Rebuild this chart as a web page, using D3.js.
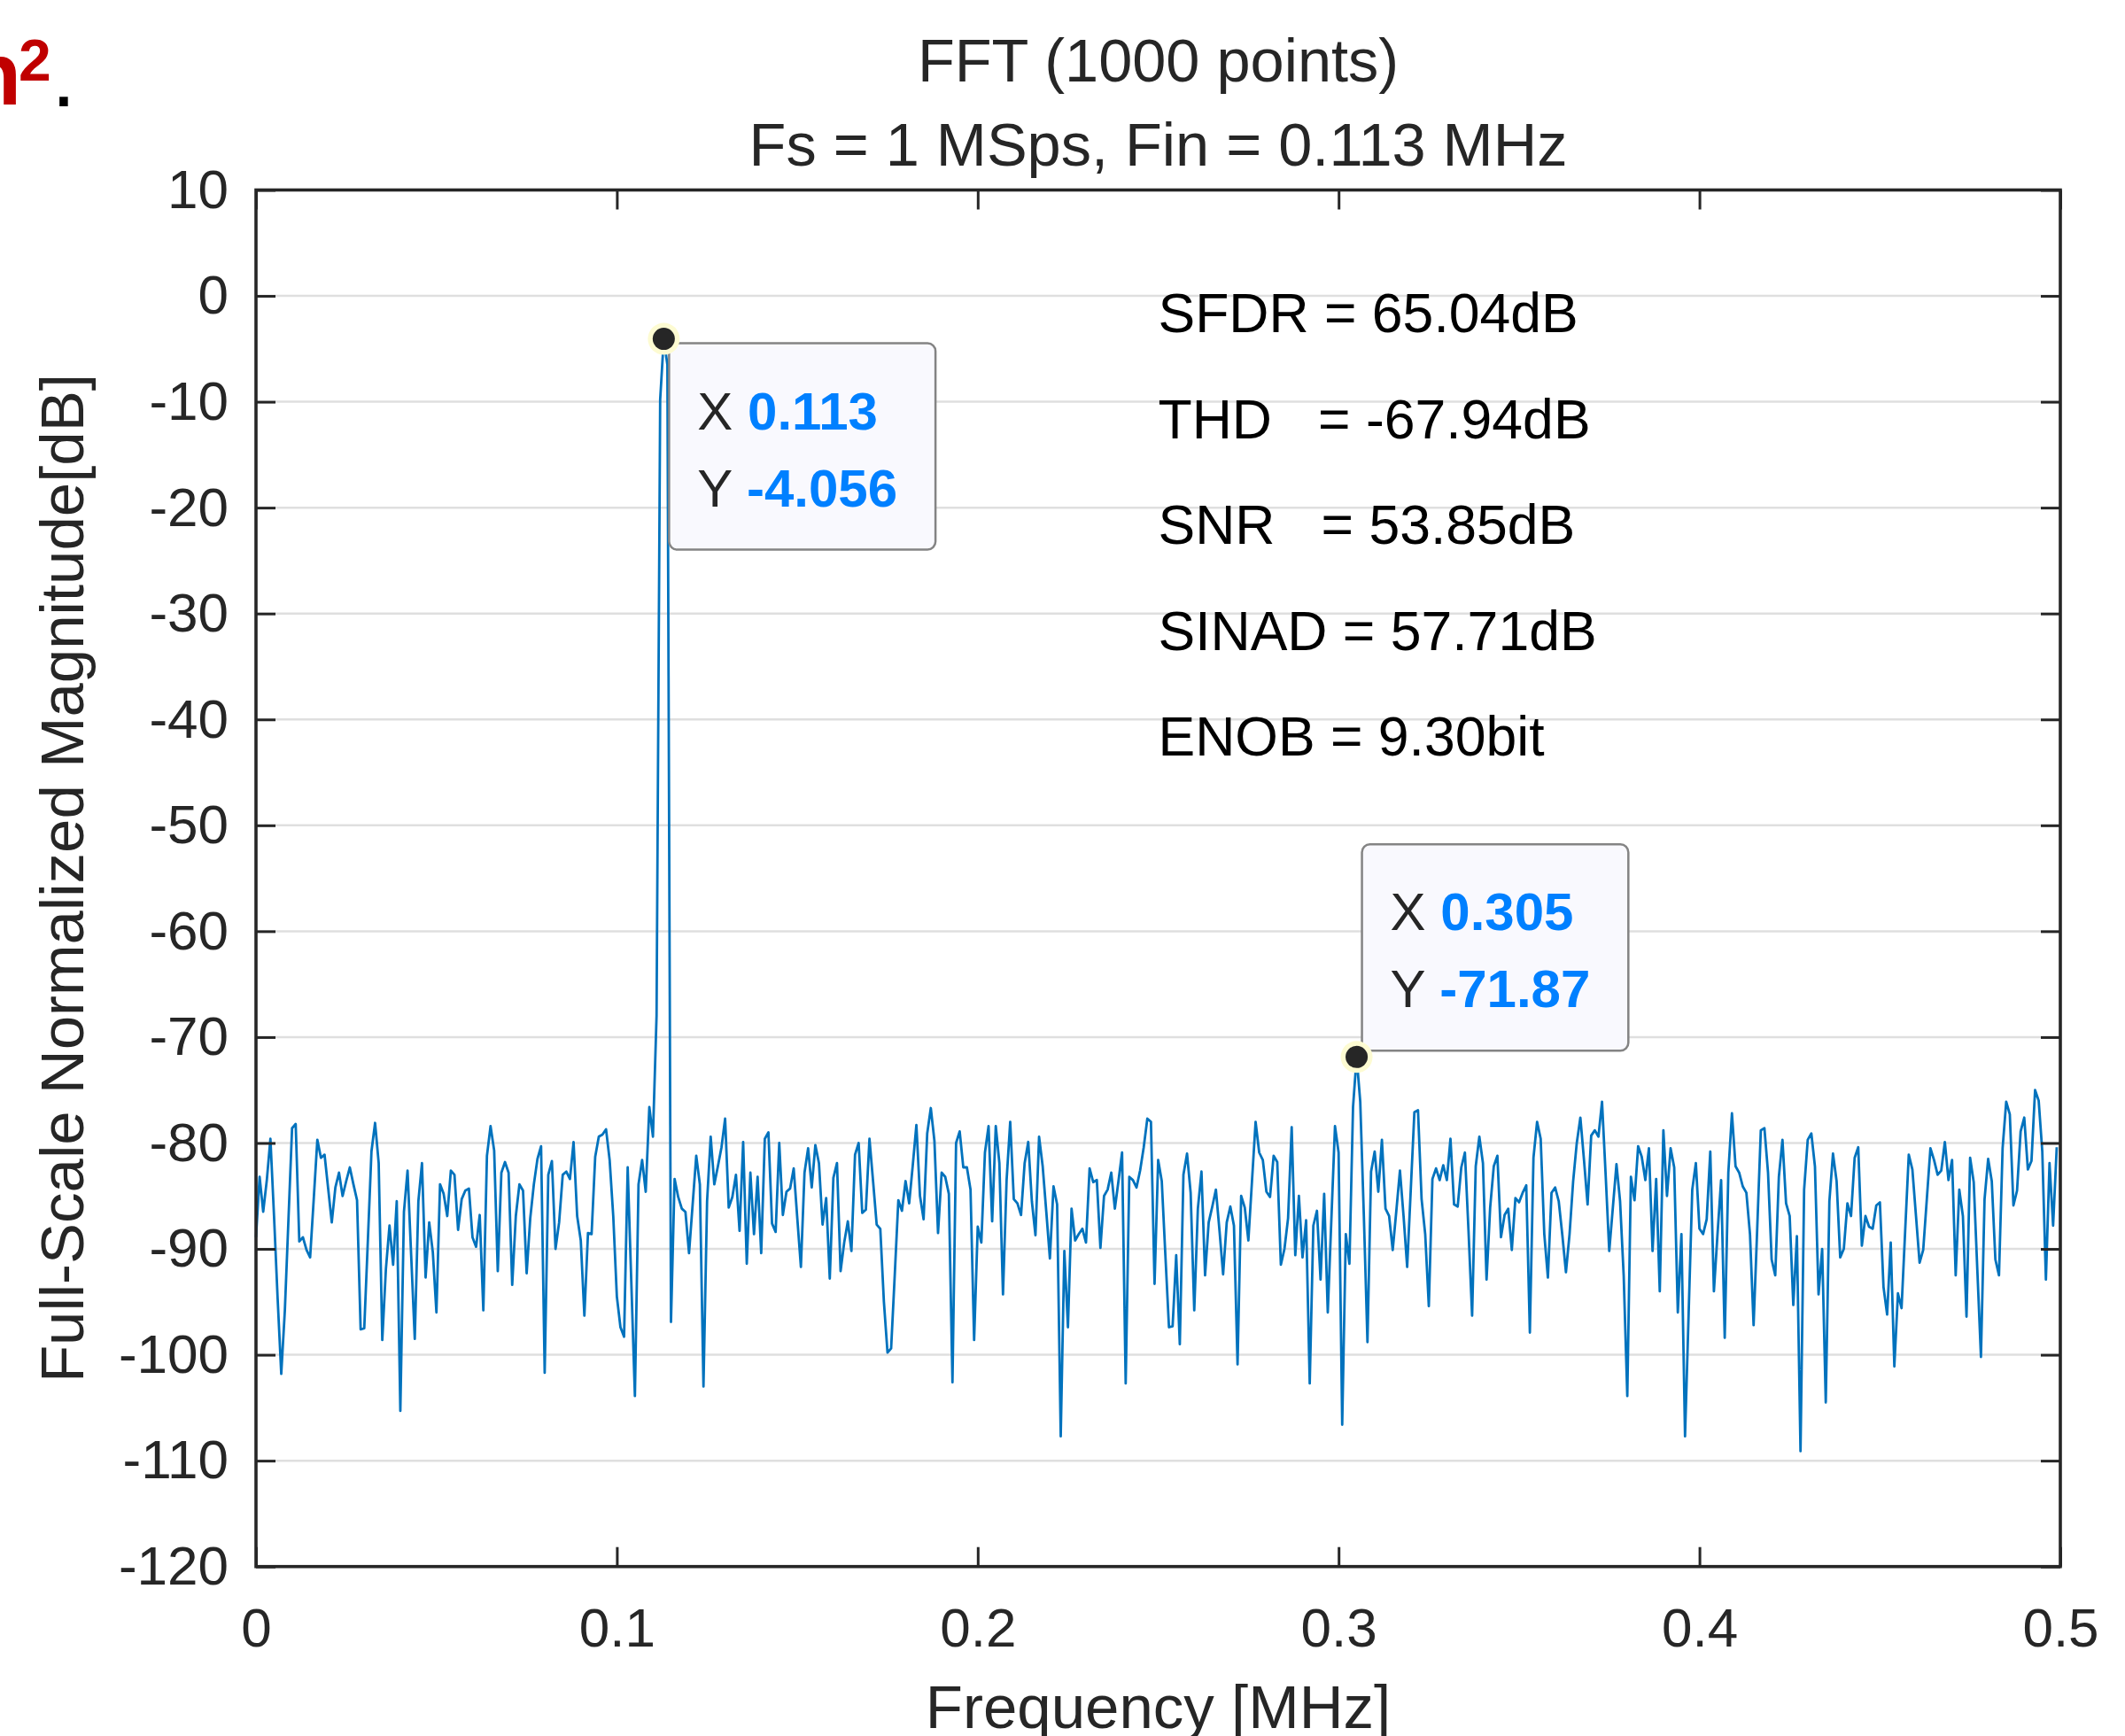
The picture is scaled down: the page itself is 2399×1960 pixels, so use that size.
<!DOCTYPE html>
<html>
<head>
<meta charset="utf-8">
<script src="https://cdn.jsdelivr.net/npm/d3@7"></script>
<style>
body{margin:0;background:#fff}
svg text{font-family:"Liberation Sans",Arial,Helvetica,sans-serif}
</style>
</head>
<body>
<div id="chart"></div>
<script>
var fftPoints = 1000
var fsMHz = 1

// one-sided spectrum, bin k = k*fs/N MHz
var magnitudeDb = [
-88.9,-83.2,-86.5,-83.5,-79.6,-86.9,-94.7,-101.8,-95.8,-87.2,
-78.6,-78.2,-89.3,-88.9,-90.1,-90.8,-85.3,-79.7,-81.4,-81.1,
-84.3,-87.5,-84.2,-82.8,-85.0,-83.6,-82.3,-83.9,-85.4,-97.6,
-97.5,-89.2,-80.8,-78.1,-81.9,-98.6,-91.9,-87.8,-91.5,-85.5,
-105.3,-86.5,-82.6,-90.6,-98.5,-85.5,-81.9,-92.7,-87.5,-90.3,
-96.0,-83.9,-84.8,-86.9,-82.6,-83.0,-88.2,-85.3,-84.5,-84.3,
-88.9,-89.8,-86.8,-95.8,-81.2,-78.4,-80.7,-92.1,-82.8,-81.8,
-82.8,-93.4,-86.9,-83.9,-84.5,-92.3,-87.1,-83.9,-81.5,-80.3,
-101.7,-83.0,-81.7,-90.0,-87.5,-83.0,-82.7,-83.4,-79.9,-86.9,
-89.2,-96.3,-88.5,-88.6,-81.3,-79.4,-79.2,-78.7,-81.6,-86.9,
-94.5,-97.4,-98.3,-82.3,-93.1,-103.9,-83.9,-81.6,-84.6,-76.6,
-79.4,-68.0,-9.8,-4.056,-6.5,-96.9,-83.4,-85.1,-86.2,-86.5,
-90.4,-85.8,-81.2,-83.9,-103.0,-85.5,-79.4,-83.9,-82.2,-80.4,
-77.7,-86.1,-85.1,-83.0,-88.3,-79.9,-91.4,-82.8,-88.6,-83.2,
-90.4,-79.6,-79.0,-87.6,-88.4,-80.0,-86.8,-84.6,-84.3,-82.4,
-87.1,-91.7,-82.8,-80.5,-84.2,-80.2,-81.9,-87.7,-85.2,-92.8,
-83.3,-81.9,-92.1,-89.4,-87.4,-90.2,-81.1,-80.0,-86.6,-86.3,
-79.6,-83.6,-87.7,-88.1,-95.0,-99.8,-99.4,-92.5,-85.4,-86.4,
-83.6,-85.7,-82.1,-78.3,-85.0,-87.2,-79.1,-76.7,-79.8,-88.5,
-82.8,-83.2,-84.8,-102.6,-80.0,-78.9,-82.3,-82.3,-84.4,-98.6,
-87.9,-89.4,-80.9,-78.4,-87.4,-78.4,-81.9,-94.3,-83.5,-78.0,
-85.3,-85.7,-86.8,-81.9,-79.9,-85.5,-88.7,-79.4,-82.2,-86.5,
-90.9,-84.1,-85.8,-107.7,-90.2,-97.4,-86.2,-89.2,-88.6,-88.1,
-89.4,-82.4,-83.7,-83.5,-89.9,-85.0,-84.4,-82.8,-86.2,-83.6,
-80.9,-102.7,-83.2,-83.5,-84.2,-82.6,-80.4,-77.7,-78.0,-93.3,
-81.6,-83.6,-90.6,-97.4,-97.3,-90.6,-99.0,-83.0,-81.0,-84.7,
-95.8,-86.2,-82.7,-92.5,-87.5,-86.0,-84.4,-88.3,-92.4,-87.5,
-86.0,-87.8,-100.9,-85.0,-86.1,-89.2,-83.6,-78.0,-80.9,-81.6,
-84.6,-85.1,-81.2,-81.8,-91.5,-90.0,-87.1,-78.5,-90.6,-85.0,
-90.8,-87.3,-102.7,-87.8,-86.4,-92.9,-84.8,-96.0,-87.2,-78.4,
-80.9,-106.6,-88.6,-91.4,-76.6,-71.87,-76.1,-86.9,-98.8,-82.7,
-80.8,-84.6,-79.7,-86.2,-86.9,-90.1,-86.4,-82.6,-86.9,-91.7,
-84.4,-77.1,-76.9,-85.3,-88.6,-95.4,-83.4,-82.4,-83.5,-82.1,
-83.5,-79.6,-85.8,-86.0,-82.3,-80.9,-88.3,-96.3,-82.2,-79.4,
-81.9,-92.9,-86.1,-82.2,-81.2,-88.9,-86.8,-86.2,-90.1,-85.2,
-85.6,-84.7,-84.0,-97.9,-81.4,-78.0,-79.6,-88.6,-92.7,-84.7,
-84.2,-85.5,-88.7,-92.2,-88.6,-83.6,-80.0,-77.6,-81.6,-85.8,
-79.3,-78.8,-79.4,-76.1,-83.0,-90.2,-86.1,-82.0,-85.5,-92.5,
-103.9,-83.2,-85.4,-80.3,-81.3,-83.5,-80.5,-90.2,-83.4,-94.0,
-78.8,-85.0,-80.5,-82.3,-96.0,-88.6,-107.7,-96.1,-84.4,-81.9,
-88.1,-88.6,-87.2,-80.8,-94.0,-88.6,-83.5,-98.4,-82.8,-77.2,
-82.2,-82.8,-84.1,-84.7,-88.6,-97.2,-88.1,-78.8,-78.6,-82.8,
-91.0,-92.5,-83.2,-79.7,-85.7,-86.9,-95.3,-88.8,-109.1,-84.4,
-79.7,-79.1,-82.2,-94.3,-90.0,-104.5,-85.5,-81.0,-83.6,-90.8,
-90.0,-85.7,-86.9,-81.4,-80.4,-89.7,-86.9,-87.9,-88.1,-85.9,
-85.6,-93.6,-96.2,-89.4,-101.1,-94.2,-95.6,-88.3,-81.1,-82.5,
-86.9,-91.3,-90.1,-85.3,-80.5,-81.6,-83.0,-82.6,-79.9,-83.5,
-81.6,-92.5,-84.4,-86.9,-96.4,-81.4,-83.7,-92.0,-100.2,-85.3,
-81.5,-83.6,-91.0,-92.5,-80.5,-76.1,-77.3,-85.9,-84.5,-78.9,
-77.6,-82.5,-81.7,-75.0,-76.0,-80.8,-92.9,-81.9,-87.8,-80.4
]

var yTicks = [-120,-110,-100,-90,-80,-70,-60,-50,-40,-30,-20,-10,0,10]
var xTicks = [0,0.1,0.2,0.3,0.4,0.5]
var xTickLabels = ["0","0.1","0.2","0.3","0.4","0.5"]

var titleLines = ["FFT (1000 points)","Fs = 1 MSps, Fin = 0.113 MHz"]
var xLabel = "Frequency [MHz]"
var yLabel = "Full-Scale Normalized Magnitude[dB]"

var statLines = ["SFDR = 65.04dB","THD   = -67.94dB","SNR   = 53.85dB","SINAD = 57.71dB","ENOB = 9.30bit"]

var tipBins = [113,305]

var W = 2399, H = 1960
var margin = {top:214.5, right:73, bottom:191.3, left:289}
var axisColor = "#262626"

var svg = d3.select("#chart").append("svg").attr("width",W).attr("height",H)

var x = d3.scaleLinear().domain([0,0.5]).range([margin.left, W-margin.right])
var y = d3.scaleLinear().domain([-120,10]).range([H-margin.bottom, margin.top])

function freq(i){ return i*fsMHz/fftPoints }

// grid
svg.append("g").selectAll("line")
	.data(yTicks)
	.enter().append("line")
	.attr("x1",x(0)).attr("x2",x(0.5))
	.attr("y1",function(d){return y(d)}).attr("y2",function(d){return y(d)})
	.attr("stroke","#dfdfdf")
	.attr("stroke-width",2.5)

// spectrum
var line = d3.line()
	.x(function(d,i){return x(freq(i))})
	.y(function(d){return y(d)})

svg.append("path")
	.datum(magnitudeDb)
	.attr("d",line)
	.attr("fill","none")
	.attr("stroke","#0072bd")
	.attr("stroke-width",2.8)
	.attr("stroke-linejoin","round")

// axes, ticks point inward on all sides
var tickLen = 22
var gLeft = svg.append("g").attr("transform","translate("+x(0)+",0)")
	.call(d3.axisLeft(y).tickValues(yTicks).tickSizeInner(-tickLen).tickSizeOuter(0).tickPadding(31)
		.tickFormat(function(d){return String(d)}))
var gRight = svg.append("g").attr("transform","translate("+x(0.5)+",0)")
	.call(d3.axisRight(y).tickValues(yTicks).tickSizeInner(-tickLen).tickSizeOuter(0).tickFormat(""))
var gBottom = svg.append("g").attr("transform","translate(0,"+y(-120)+")")
	.call(d3.axisBottom(x).tickValues(xTicks).tickSizeInner(-tickLen).tickSizeOuter(0).tickPadding(46)
		.tickFormat(function(d,i){return xTickLabels[i]}))
var gTop = svg.append("g").attr("transform","translate(0,"+y(10)+")")
	.call(d3.axisTop(x).tickValues(xTicks).tickSizeInner(-tickLen).tickSizeOuter(0).tickFormat(""))

svg.selectAll(".domain").remove()
;[gLeft,gRight,gBottom,gTop].forEach(function(g){
	g.attr("color",axisColor)
	g.selectAll("line").attr("stroke-width",3)
	g.selectAll("text").attr("font-size",62).attr("font-family",null).attr("fill",axisColor)
})

svg.append("rect")
	.attr("x",x(0)).attr("y",y(10))
	.attr("width",x(0.5)-x(0)).attr("height",y(-120)-y(10))
	.attr("fill","none")
	.attr("stroke",axisColor)
	.attr("stroke-width",3.6)

// labels
svg.selectAll(".title")
	.data(titleLines)
	.enter().append("text")
	.attr("class","title")
	.attr("x",(x(0)+x(0.5))/2)
	.attr("y",function(d,i){return 92+i*95})
	.attr("text-anchor","middle")
	.attr("font-size",68.5)
	.attr("fill",axisColor)
	.text(function(d){return d})

svg.append("text")
	.attr("x",(x(0)+x(0.5))/2)
	.attr("y",1951)
	.attr("text-anchor","middle")
	.attr("font-size",69)
	.attr("fill",axisColor)
	.text(xLabel)

svg.append("text")
	.attr("transform","translate(94,"+(y(10)+y(-120))/2+") rotate(-90)")
	.attr("text-anchor","middle")
	.attr("font-size",69)
	.attr("fill",axisColor)
	.text(yLabel)

// stats block
svg.selectAll(".stat")
	.data(statLines)
	.enter().append("text")
	.attr("class","stat")
	.attr("x",x(0.25))
	.attr("y",function(d,i){return y(-2-10*i)+17})
	.attr("font-size",62.5)
	.attr("fill","#000")
	.style("white-space","pre")
	.text(function(d){return d})

// datatips
var fmt = function(v){return String(+v.toPrecision(4))}
tipBins.forEach(function(b,i){
	var cx = x(freq(b)), cy = y(magnitudeDb[b])
	var tip = svg.append("g")
	var box = tip.append("rect")
		.attr("rx",9).attr("ry",9)
		.attr("fill","#f9f9fe")
		.attr("stroke","#848484")
		.attr("stroke-width",2.5)
	var rows = [["X ",fmt(freq(b))],["Y ",fmt(magnitudeDb[b])]]
	var texts = tip.selectAll("text").data(rows).enter().append("text")
		.attr("font-size",60)
	texts.append("tspan").attr("fill","#262626").style("white-space","pre").text(function(d){return d[0]})
	texts.append("tspan").attr("fill","#0080ff").attr("font-weight","bold").text(function(d){return d[1]})
	var tw = d3.max(texts.nodes(),function(n){return n.getComputedTextLength()})
	var bw = tw+75, bh = 233
	var bx = cx+6
	var by = i==0 ? cy+5 : cy-7-bh
	box.attr("x",bx).attr("y",by).attr("width",bw).attr("height",bh)
	texts.attr("x",bx+32).attr("y",function(d,j){return by+97+j*87})
	tip.append("circle").attr("cx",cx).attr("cy",cy).attr("r",18).attr("fill","#fdfbd2")
	tip.append("circle").attr("cx",cx).attr("cy",cy).attr("r",12.5).attr("fill","#262626")
})

// clipped caption fragment from the page this figure came from
svg.append("text").attr("x",-37).attr("y",118).attr("font-size",100).attr("font-weight","bold").attr("fill","#c00000").text("n")
svg.append("text").attr("x",21).attr("y",91).attr("font-size",66).attr("font-weight","bold").attr("fill","#c00000").text("2")
svg.append("text").attr("x",58).attr("y",120).attr("font-size",100).attr("fill","#000").text(".")
</script>
</body>
</html>
